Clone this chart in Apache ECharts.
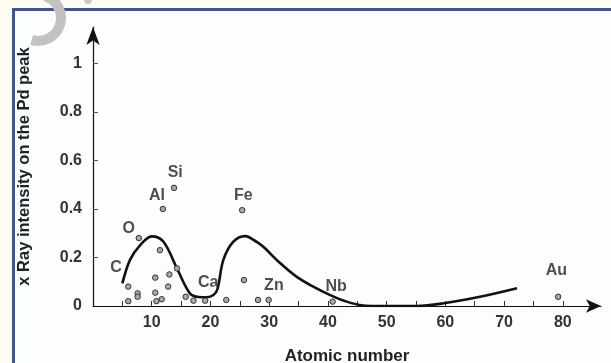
<!DOCTYPE html>
<html>
<head>
<meta charset="utf-8">
<script src="https://cdn.jsdelivr.net/npm/echarts@6/dist/echarts.min.js"></script>
<style>
html,body{margin:0;padding:0;background:#fefcf1;}
#chart{width:611px;height:363px;}
</style>
</head>
<body>
<div id="chart"></div>
<script>
// Measured points (atomic number, x-ray intensity)
const pointX = [6, 6, 7.6, 7.6, 7.8, 10.6, 10.6, 10.8, 11.7, 11.4, 11.9, 13.8, 12.8, 13.0, 14.3, 15.8, 17.1, 19.1, 22.7, 25.4, 25.7, 28.1, 29.9, 40.8, 79.2];
const pointY = [0.08, 0.02, 0.052, 0.038, 0.28, 0.117, 0.055, 0.02, 0.028, 0.23, 0.40, 0.487, 0.08, 0.13, 0.155, 0.038, 0.022, 0.022, 0.025, 0.395, 0.107, 0.025, 0.025, 0.018, 0.038];

// Trend curve
const curveX = [5.0, 6.3, 8.0, 10.0, 12.0, 14.3, 16.5, 18.0, 19.4, 20.5, 21.2, 22.2, 23.9, 25.9, 28.0, 29.0, 31.9, 34.7, 37.5, 40.4, 43.2, 46.0, 48.2, 52.0, 55.1, 59.7, 65.9, 72.2];
const curveY = [0.093, 0.19, 0.25, 0.287, 0.265, 0.155, 0.052, 0.037, 0.036, 0.045, 0.07, 0.19, 0.265, 0.288, 0.262, 0.244, 0.176, 0.12, 0.08, 0.045, 0.018, 0.002, 0.0, 0.0, 0.0, 0.011, 0.038, 0.073];

// Element labels
const labelNames = ['C', 'O', 'Al', 'Si', 'Fe', 'Ca', 'Zn', 'Nb', 'Au'];
const labelX = [3.9, 6.1, 10.9, 14.0, 25.6, 19.6, 30.8, 41.4, 78.9];
const labelY = [0.16, 0.317, 0.457, 0.55, 0.457, 0.098, 0.086, 0.078, 0.144];

// Axis ticks
const xLabelValues = [10, 20, 30, 40, 50, 60, 70, 80];
const xTickValues = [5, 10, 15, 20, 25, 30, 35, 40, 45, 50, 55, 60, 65, 70, 75, 80];
const yLabelValues = [0, 0.2, 0.4, 0.6, 0.8, 1];
const yTickValues = [0.2, 0.4, 0.6, 0.8, 1];

const chart = echarts.init(document.getElementById('chart'), null, {renderer: 'canvas'});
const font = '"Liberation Sans", Arial, sans-serif';

chart.setOption({
  backgroundColor: 'transparent',
  animation: false,
  graphic: {
    elements: [
      {type: 'rect', z: -100, silent: true,
       shape: {x: 13.5, y: 9.5, width: 620, height: 400},
       style: {fill: '#fbfdfe', stroke: '#3c55a2', lineWidth: 3}},
      {type: 'arc', z: -90, silent: true,
       shape: {cx: 38, cy: 18, r: 23, startAngle: -1.25, endAngle: 1.85},
       style: {fill: 'none', stroke: '#c2c2c2', lineWidth: 10}},
      {type: 'circle', z: -90, silent: true,
       shape: {cx: 88, cy: 0, r: 4},
       style: {fill: '#c8c8c8'}}
    ]
  },
  grid: {left: 93, right: 10, top: 27, bottom: 57, containLabel: false, outerBoundsMode: 'none'},
  xAxis: {
    type: 'value', min: 0, max: 86.5,
    name: 'Atomic number', nameLocation: 'middle', nameGap: 42,
    nameTextStyle: {fontFamily: font, fontSize: 17, fontWeight: 'bold', color: '#222'},
    axisLine: {show: true, symbol: ['none', 'arrow'], symbolSize: [10, 15],
      lineStyle: {color: '#111', width: 1.2}},
    axisTick: {show: true, inside: true, length: 5, customValues: xTickValues,
      lineStyle: {color: '#333', width: 1}},
    axisLabel: {show: true, customValues: xLabelValues, margin: 9,
      fontFamily: font, fontSize: 16, fontWeight: 'bold', color: '#333'},
    splitLine: {show: false}
  },
  yAxis: {
    type: 'value', min: 0, max: 1.15,
    name: 'x Ray intensity on the Pd peak', nameLocation: 'middle', nameGap: 60,
    nameTextStyle: {fontFamily: font, fontSize: 16.5, fontWeight: 'bold', color: '#222'},
    axisLine: {show: true, symbol: ['none', 'arrow'], symbolSize: [10, 18],
      lineStyle: {color: '#111', width: 1.2}},
    axisTick: {show: true, inside: true, length: 5, customValues: yTickValues,
      lineStyle: {color: '#555', width: 1}},
    axisLabel: {show: true, customValues: yLabelValues, margin: 11,
      fontFamily: font, fontSize: 16, fontWeight: 'bold', color: '#333',
      formatter: v => String(v)},
    splitLine: {show: false}
  },
  series: [
    {
      type: 'line', smooth: 0.35, symbol: 'none',
      data: curveX.map((x, i) => [x, curveY[i]]),
      lineStyle: {color: '#111', width: 2.6}, z: 3
    },
    {
      type: 'scatter', symbol: 'circle', symbolSize: 5.5,
      data: pointX.map((x, i) => [x, pointY[i]]),
      itemStyle: {color: '#a8a8a8', borderColor: '#333', borderWidth: 1, opacity: 1}, z: 4
    },
    {
      type: 'scatter', symbol: 'circle', symbolSize: 1,
      itemStyle: {color: 'rgba(0,0,0,0)'},
      data: labelNames.map((n, i) => ({name: n, value: [labelX[i], labelY[i]]})),
      label: {show: true, position: 'inside', align: 'center', verticalAlign: 'middle',
        formatter: p => p.name,
        fontFamily: font, fontSize: 16, fontWeight: 'bold', color: '#222'},
      z: 5
    }
  ]
});
</script>
</body>
</html>
